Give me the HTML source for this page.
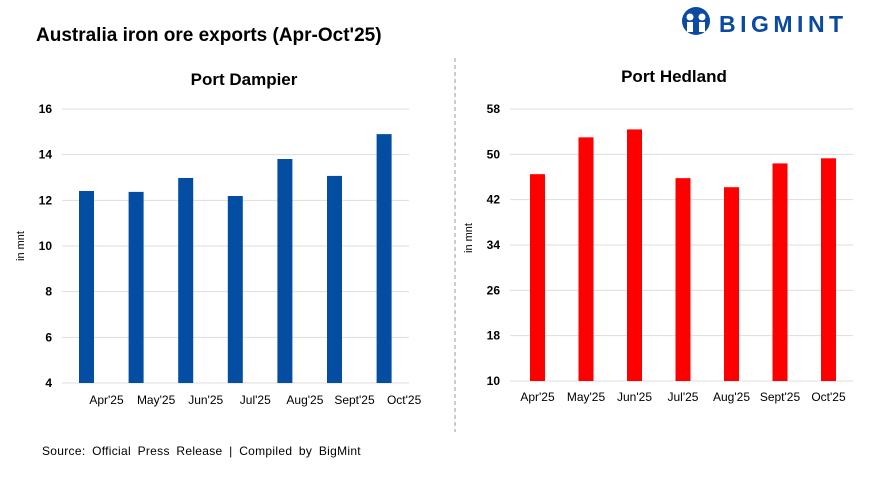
<!DOCTYPE html>
<html><head><meta charset="utf-8"><style>
body{margin:0;background:#fff;width:869px;height:477px;overflow:hidden;font-family:"Liberation Sans",sans-serif}
</style></head><body>
<svg id="s" width="869" height="477" xmlns="http://www.w3.org/2000/svg" font-family="Liberation Sans, sans-serif">
<text x="36" y="41" font-size="19" font-weight="bold" fill="#000">Australia iron ore exports (Apr-Oct'25)</text>
<g>
<circle cx="696" cy="21" r="14" fill="#0b4aa2"/>
<circle cx="690" cy="17" r="3.5" fill="#fff"/><circle cx="702" cy="17" r="3.5" fill="#fff"/>
<rect x="687" y="22" width="6" height="10" fill="#fff"/><rect x="699" y="22" width="6" height="10" fill="#fff"/>
<text x="719" y="32" font-size="23" font-weight="bold" fill="#0b4aa2" letter-spacing="4.5">BIGMINT</text>
</g>
<line x1="455" y1="58" x2="455" y2="432" stroke="#999" stroke-dasharray="4,3"/>
<text x="244" y="85" font-size="17" font-weight="bold" text-anchor="middle">Port Dampier</text>
<text x="674" y="82" font-size="17" font-weight="bold" text-anchor="middle">Port Hedland</text>
<text transform="translate(24,246) rotate(-90)" font-size="11" text-anchor="middle">in mnt</text>
<text transform="translate(472,238) rotate(-90)" font-size="11" text-anchor="middle">in mnt</text>
<text x="42" y="455" font-size="12" word-spacing="3" letter-spacing="0.3">Source:  Official Press Release  | Compiled  by BigMint</text>
<g id="left"></g><g id="right"></g>
</svg>
<script>
const categories=["Apr'25","May'25","Jun'25","Jul'25","Aug'25","Sept'25","Oct'25"];
const dampierValues=[12.41,12.37,12.98,12.19,13.81,13.07,14.9];
const hedlandValues=[46.5,53.0,54.4,45.8,44.2,48.4,49.3];
const dampierTicks=[4,6,8,10,12,14,16];
const hedlandTicks=[10,18,26,34,42,50,58];
const NS="http://www.w3.org/2000/svg";
function mk(g,tag,attrs,txt){const e=document.createElementNS(NS,tag);for(const k in attrs)e.setAttribute(k,attrs[k]);if(txt!==undefined)e.textContent=txt;g.appendChild(e);return e;}
function draw(gid,vals,ticks,cfg){
  const g=document.getElementById(gid);
  const min=ticks[0],max=ticks[ticks.length-1];
  const y=v=>cfg.y1-(v-min)/(max-min)*(cfg.y1-cfg.y0);
  const x=i=>cfg.x0+cfg.step*i;
  ticks.forEach(t=>{
    const l=mk(g,'line',{x1:cfg.gx0,x2:cfg.gx1,y1:y(t),y2:y(t),stroke:'#ddd'});
    
    
    const tx=mk(g,'text',{x:cfg.tx,y:y(t)+4,'font-size':12,'font-weight':'bold','text-anchor':'end'},t);
    
    
  });
  vals.forEach((v,i)=>{
    const r=mk(g,'rect',{x:x(i)-cfg.bw/2,y:y(v),width:cfg.bw,height:y(min)-y(v),fill:cfg.color});
    
    
    const t=mk(g,'text',{x:x(i)+cfg.lo,y:cfg.ly,'font-size':12,'text-anchor':'middle'},categories[i]);
    
    
  });
}
draw('left',dampierValues,dampierTicks,{x0:86.5,step:49.6,y0:109,y1:383,gx0:62,gx1:409,tx:52,bw:15,color:'#034ea2',lo:20,ly:404});
draw('right',hedlandValues,hedlandTicks,{x0:537.5,step:48.5,y0:109,y1:381,gx0:510,gx1:853,tx:500,bw:15,color:'#ff0000',lo:0,ly:401});
</script>
</body></html>
